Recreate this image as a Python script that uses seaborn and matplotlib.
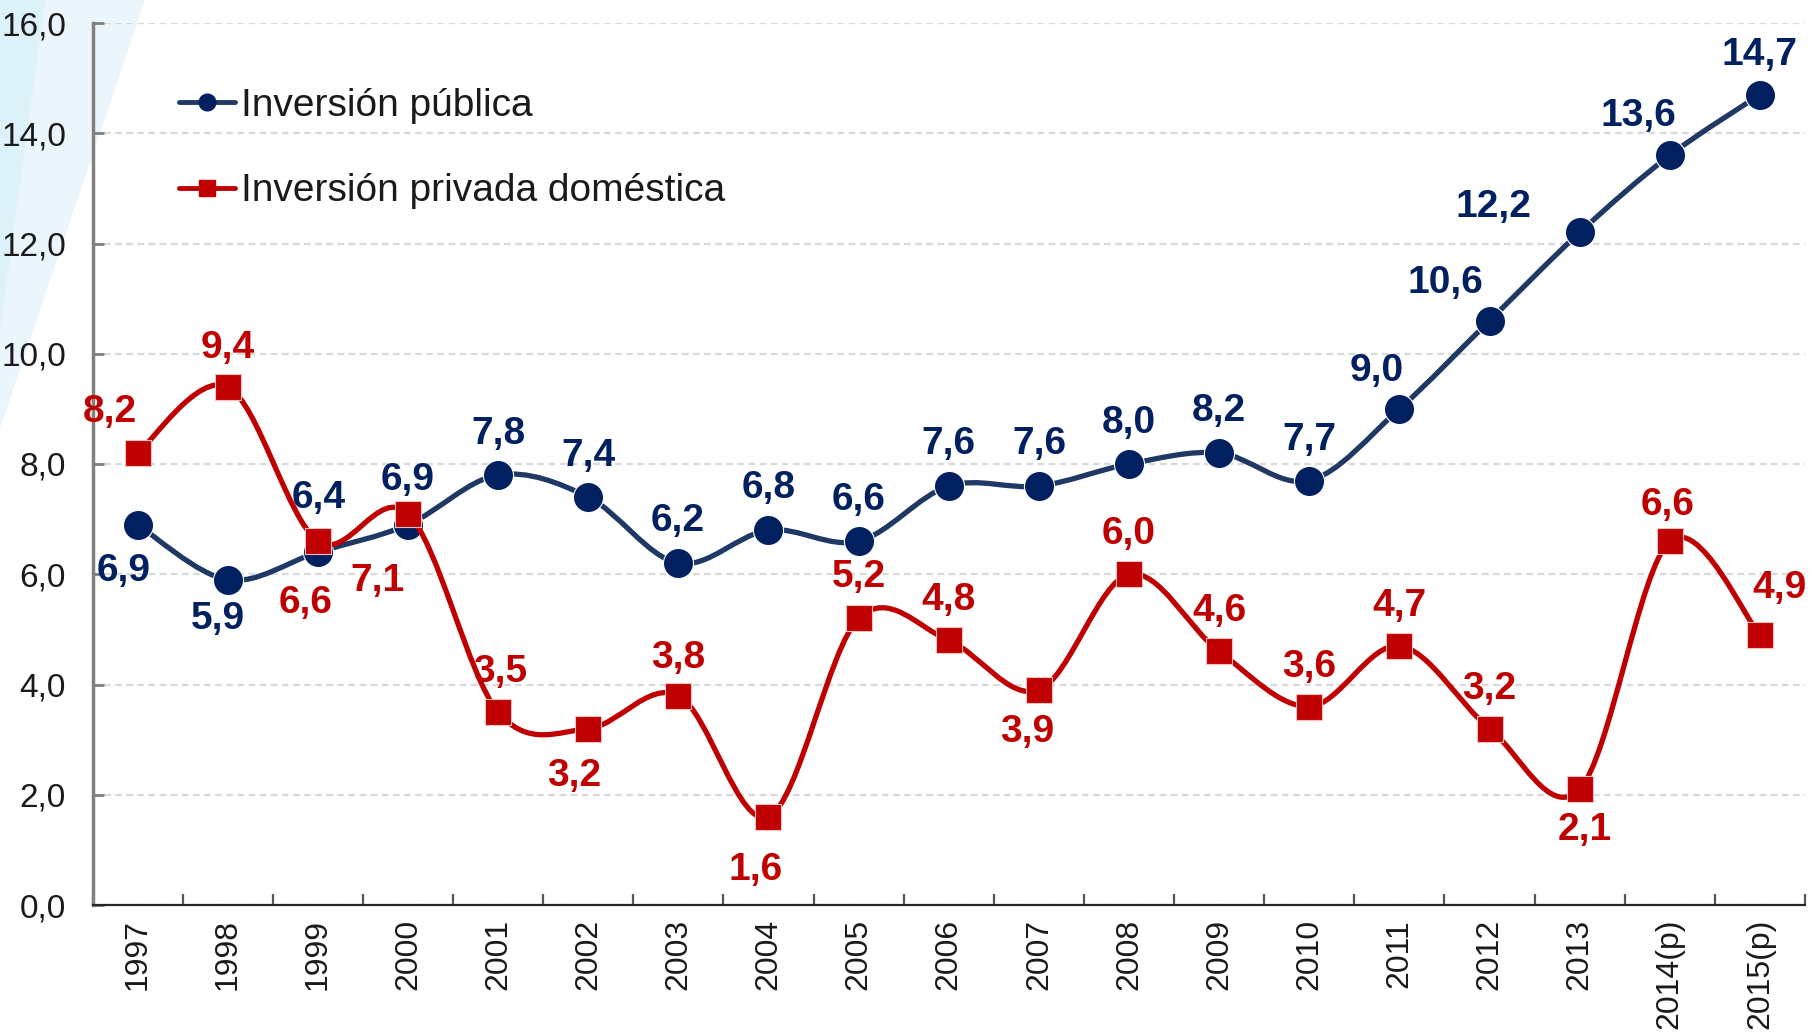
import numpy as np
import pandas as pd
import matplotlib
matplotlib.use("Agg")
import matplotlib.pyplot as plt
import seaborn as sns
from matplotlib.path import Path
from matplotlib.patches import PathPatch, Polygon
from matplotlib.lines import Line2D
from matplotlib.ticker import FixedLocator, FuncFormatter

# ---------------- data ----------------
years = ["1997", "1998", "1999", "2000", "2001", "2002", "2003", "2004", "2005",
         "2006", "2007", "2008", "2009", "2010", "2011", "2012", "2013",
         "2014(p)", "2015(p)"]
publica = [6.9, 5.9, 6.4, 6.9, 7.8, 7.4, 6.2, 6.8, 6.6, 7.6, 7.6, 8.0, 8.2,
           7.7, 9.0, 10.6, 12.2, 13.6, 14.7]
privada = [8.2, 9.4, 6.6, 7.1, 3.5, 3.2, 3.8, 1.6, 5.2, 4.8, 3.9, 6.0, 4.6,
           3.6, 4.7, 3.2, 2.1, 6.6, 4.9]
series_names = ["Inversión pública", "Inversión privada doméstica"]
y_ticks = [0, 2, 4, 6, 8, 10, 12, 14, 16]

# label offsets (pixels, relative to each point) -- styling only
pub_off = [(-14, -46), (-10, -39), (1, 54), (0, 45), (0, 41), (0, 41), (-1, 42),
           (0, 42), (0, 41), (0, 42), (0, 42), (0, 41), (0, 42), (0, 41),
           (-23, 38), (-44, 38), (-86, 25), (-31, 39), (0, 40)]
pri_off = [(-28, 41), (0, 39), (-12, -62), (-30, -67), (2, 40), (-14, -47), (0, 38),
           (-13, -53), (0, 41), (0, 40), (-12, -42), (0, 40), (0, 40), (0, 40),
           (0, 40), (0, 40), (5, -41), (-2, 36), (20, 47)]

BLUE_M = "#002060"
BLUE_L = "#1f3864"
RED = "#c00000"

df = pd.DataFrame({"year": years, "publica": publica, "privada": privada})

sns.set_theme(style="white")
plt.rcParams["font.family"] = ["Liberation Sans", "DejaVu Sans"]

W, H = 1814, 1035
fig = plt.figure(figsize=(W / 100, H / 100), dpi=100)
fig.patch.set_facecolor("white")

# decorative light-blue wedge at the left edge
fig.add_artist(Polygon([(0, 1), (145 / W, 1), (0, 1 - 428 / H)], closed=True,
                       transform=fig.transFigure, facecolor="#eaf6fb",
                       edgecolor="none", zorder=0))
fig.add_artist(Polygon([(0, 1), (45 / W, 1), (0, 1 - 330 / H)], closed=True,
                       transform=fig.transFigure, facecolor="#ddf1f9",
                       edgecolor="none", zorder=0))

ax = fig.add_axes([92.5 / W, 130 / H, (1805 - 92.5) / W, (905 - 23) / H])
ax.set_facecolor("none")


def smooth_path(xs, ys):
    pts = np.column_stack([xs, ys]).astype(float)
    n = len(pts)
    verts = [pts[0]]
    codes = [Path.MOVETO]
    for i in range(n - 1):
        p0 = pts[i - 1] if i > 0 else pts[i]
        p1 = pts[i]
        p2 = pts[i + 1]
        p3 = pts[i + 2] if i + 2 < n else pts[i + 1]
        c1 = p1 + (p2 - p0) / 6.0
        c2 = p2 - (p3 - p1) / 6.0
        verts += [c1, c2, p2]
        codes += [Path.CURVE4] * 3
    return Path(verts, codes)


xpos = np.arange(len(years))

# lines (smoothed) and markers
ax.add_patch(PathPatch(smooth_path(xpos, publica), facecolor="none",
                       edgecolor=BLUE_L, lw=3.8, capstyle="round", zorder=2))
sns.scatterplot(data=df, x="year", y="publica", marker="o", s=470,
                color=BLUE_M, edgecolor="white", linewidth=0.8, zorder=3,
                ax=ax, legend=False)
ax.add_patch(PathPatch(smooth_path(xpos, privada), facecolor="none",
                       edgecolor=RED, lw=3.8, capstyle="round", zorder=4))
sns.scatterplot(data=df, x="year", y="privada", marker="s", s=330,
                color=RED, edgecolor="#f4c0c0", linewidth=0.8, zorder=5,
                ax=ax, legend=False)


def fmt(v):
    return f"{v:.1f}".replace(".", ",")


for i, v in enumerate(publica):
    ax.annotate(fmt(v), (i, v), xytext=pub_off[i], textcoords="offset pixels",
                ha="center", va="center", fontsize=28, fontweight="bold",
                color=BLUE_M, zorder=6)
for i, v in enumerate(privada):
    ax.annotate(fmt(v), (i, v), xytext=pri_off[i], textcoords="offset pixels",
                ha="center", va="center", fontsize=28, fontweight="bold",
                color=RED, zorder=6)

# axes
ax.set_xlim(-0.5, len(years) - 0.5)
ax.set_ylim(0, 16)
ax.set_xlabel("")
ax.set_ylabel("")

ax.yaxis.set_major_locator(FixedLocator(y_ticks))
ax.yaxis.set_major_formatter(FuncFormatter(lambda v, p: fmt(v)))
ax.yaxis.grid(True, color="#d9d9d9", linestyle=(0, (3, 2)), linewidth=1.6)
ax.xaxis.grid(False)
ax.set_axisbelow(True)

ax.xaxis.set_major_locator(FixedLocator(xpos))
ax.set_xticklabels(years, rotation=90)
ax.xaxis.set_minor_locator(FixedLocator(np.arange(-0.5, len(years), 1.0)))

ax.tick_params(axis="y", which="major", direction="in", length=8, width=2,
               color="#7f7f7f", pad=19, labelsize=24, labelcolor="#1a1a1a",
               left=True)
ax.tick_params(axis="x", which="major", length=0, pad=10, labelsize=23,
               labelcolor="#1a1a1a", bottom=True)
ax.tick_params(axis="x", which="minor", direction="in", length=8, width=1.6,
               color="#555555", bottom=True)

for s in ["top", "right"]:
    ax.spines[s].set_visible(False)
ax.spines["left"].set_color("#808080")
ax.spines["left"].set_linewidth(2.5)
ax.spines["bottom"].set_color("#262626")
ax.spines["bottom"].set_linewidth(1.6)

# legend
handles = [
    Line2D([], [], color=BLUE_L, lw=3.5, marker="o", ms=12,
           mfc=BLUE_M, mec=BLUE_M),
    Line2D([], [], color=RED, lw=3.5, marker="s", ms=12,
           mfc=RED, mec=RED),
]
leg = ax.legend(handles, series_names, loc="upper left",
                bbox_to_anchor=(179 / W, 1 - 88 / H), bbox_transform=fig.transFigure,
                frameon=False, fontsize=28, handlelength=1.45, handletextpad=0.15,
                labelspacing=1.27, borderpad=0, borderaxespad=0)
for t in leg.get_texts():
    t.set_color("#1a1a1a")

fig.savefig("out.png", dpi=100)
